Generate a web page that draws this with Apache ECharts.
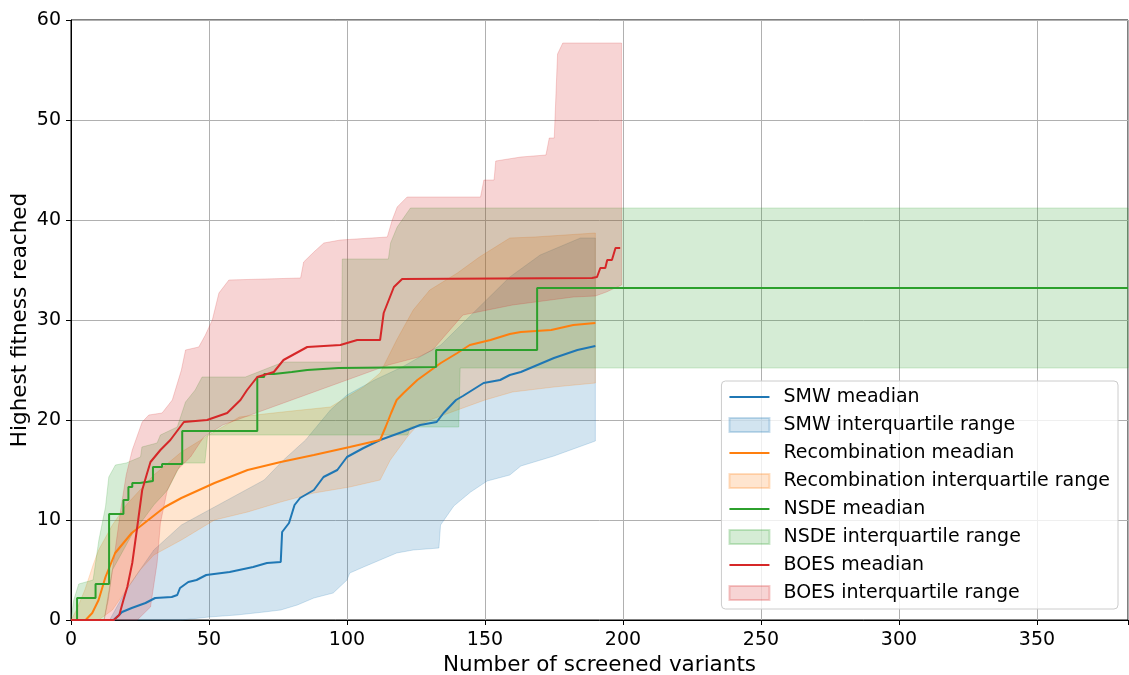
<!DOCTYPE html>
<html><head><meta charset="utf-8">
<script src="https://cdn.jsdelivr.net/npm/echarts@6/dist/echarts.min.js"></script>
<style>html,body{margin:0;padding:0;background:#fff}#c{width:1129px;height:675px}</style>
</head><body><div id="c"></div>
<script>
const xTickStep = 50;
const yTickStep = 10;

const smwMedian = [[0,0],[15.5,0],[18.5,0.8],[22,1.2],[27,1.7],[30.5,2.2],[36.5,2.3],[38.5,2.5],[39.5,3.2],[42.5,3.8],[45.5,4],[49,4.5],[57.5,4.8],[66,5.3],[71,5.7],[76,5.8],[76.5,8.8],[79,9.7],[81,11.5],[83,12.2],[88,13],[91.5,14.3],[96.5,15],[100,16.3],[106,17.2],[112,18],[120,18.8],[126.5,19.5],[132.5,19.8],[135,20.7],[139.5,22],[142,22.4],[149.5,23.7],[155.5,24],[159,24.5],[163,24.8],[175,26.2],[183.5,27],[190,27.4]];
const smwLower = [[0,0],[40,0],[50,0.3],[60,0.5],[70,0.8],[76,1],[82,1.5],[88,2.2],[95,2.7],[100,4],[101,4.7],[106,5.3],[112,6],[118,6.7],[124,7],[133.3,7.2],[133.9,9.5],[138.7,11.4],[144.8,12.8],[150.8,13.9],[159,14.5],[163,15.4],[175,16.4],[183,17.2],[190,17.9]];
const smwUpper = [[0,0],[14,0],[16,1],[20,3],[25,5],[30,7],[40,9.5],[50,11],[60,12.5],[70,14],[77,16],[85,18],[94,21],[100,22.5],[110,24],[120,25.3],[134,27.5],[145,30.5],[159,34.3],[170,36.5],[184.6,38.2],[190,38.2]];

const recMedian = [[0,0],[5.3,0],[7.7,0.7],[10,2],[12.5,4.3],[16,6.7],[22,8.7],[28,10],[34,11.3],[40,12.2],[52,13.7],[64,15],[76,15.8],[88,16.5],[101,17.3],[112,18],[114,19.3],[116,20.7],[118,22],[120.5,22.7],[125.5,24],[129,24.7],[134,25.7],[140,26.7],[144.5,27.5],[152,28],[159,28.6],[163,28.8],[174,29],[182,29.5],[190,29.7]];
const recLower = [[0,0],[10,0],[15,1],[20,3],[25,5],[30,6.5],[40,8],[52,10],[64,10.8],[76,11.8],[88,12.7],[101,13.3],[112,14],[115.7,16],[121.8,18.3],[125,19.3],[130,20],[140,21],[150,22],[160,22.8],[175,23.3],[190,23.7]];
const recUpper = [[0,0],[2,1],[5,3],[8,5.5],[10,7],[15,9.5],[20,11.5],[25,13],[30,14.5],[40,16.8],[50,18.5],[61,20.3],[70,20.6],[80,20.9],[94,21.3],[100,22.3],[106,23.3],[112,24.7],[118,28],[124,31],[130,33],[140,34.7],[148,36.3],[159,38.2],[168,38.3],[190,38.7]];

const nsdeMedian = [[0,0],[2.2,2.2],[8.9,3.6],[13.8,10.6],[19,12],[20.8,13.3],[22.2,13.7],[25,13.9],[29.7,15.3],[33,15.6],[40.3,18.9],[67.5,24.3],[70,24.6],[73.5,24.8],[80,25],[85.6,25.2],[97,25.3],[132.3,27],[168.9,33.2],[383,33.2]];
const nsdeLower = [[0,0],[12,0],[13.5,2],[15,5],[18,6.5],[22,8.5],[26,10],[30,11.5],[35,13],[40,15.7],[48.5,15.7],[49.5,18.5],[122,18.5],[123,19.3],[140.5,19.3],[141,25.2],[383,25.2]];
const nsdeUpper = [[0,0],[1,2],[2.8,3.6],[8,4],[10.1,8],[12.5,11.3],[13.7,14.3],[16.1,15.5],[20,15.7],[25.2,16.3],[25.7,17.3],[31.2,17.7],[32.4,18.5],[38.5,19.3],[41.5,21.8],[45,23],[47.5,24.3],[63.2,24.3],[77,25.8],[98,25.8],[98.3,36.1],[115,36.1],[115.8,37.7],[118.2,39.3],[123,41.2],[383,41.2]];

const boesMedian = [[0,0],[15.5,0],[17.5,0.5],[19,2],[20.4,3.3],[22.2,5.7],[24,9.3],[25.8,13],[27.6,14.7],[28.8,15.8],[32.4,17],[36,18],[40.9,19.8],[49.3,20],[56.6,20.7],[61.4,22],[63.8,23],[67.5,24.3],[73.5,24.8],[77,26],[85.6,27.3],[97.6,27.5],[103.7,28],[112,28],[113.3,30.7],[117,33.3],[120,34.1],[188.8,34.2],[190.6,34.3],[191.8,35.2],[193.6,35.2],[194.3,36],[196,36],[197.3,37.2],[199,37.2]];
const boesLower = [[0,0],[24,0],[28.8,1.3],[31.2,5.7],[32.4,9.7],[34.9,13],[38.5,15],[43.3,16.3],[48.1,18.3],[55,19.5],[65,20.5],[75,21.5],[85,22.5],[95,23.5],[105,24.5],[115,25.5],[126,26.3],[131,27],[142,30.5],[160,31.5],[182,32.3],[190,32.4],[194,32.8],[199.5,33.5]];
const boesUpper = [[0,0],[12,0],[15,5],[18,11],[20,14.5],[22.2,17],[25.8,19.8],[28.2,20.5],[33,20.7],[36.7,22],[40,25],[41.5,27],[46.3,27.3],[48.7,28.5],[51.2,30],[53.6,32.7],[57.2,34],[83.2,34.2],[84.3,35.8],[88,36.8],[91.6,37.7],[97.6,38],[114.6,38.3],[116.4,40],[118.2,41.3],[121.8,42.3],[148.4,42.3],[149.6,44],[153.3,44],[153.9,45.9],[163,46.3],[172.1,46.5],[173.3,48.2],[175.1,48.2],[176.3,56.6],[178.2,57.7],[199.5,57.7]];

const names = ['SMW meadian','SMW interquartile range','Recombination meadian','Recombination interquartile range','NSDE meadian','NSDE interquartile range','BOES meadian','BOES interquartile range'];
const colors = ['#1f77b4','#ff7f0e','#2ca02c','#d62728'];

function rgba(hex, a){
  const n = parseInt(hex.slice(1),16);
  return 'rgba('+((n>>16)&255)+','+((n>>8)&255)+','+(n&255)+','+a+')';
}
function band(name, color, lower, upper){
  const poly = upper.concat(lower.slice().reverse());
  return {
    name: name, type: 'custom', z: 1, silent: true,
    itemStyle: {color: rgba(color,0.2), borderColor: rgba(color,0.25), borderWidth: 1},
    data: poly,
    renderItem: function(params, api){
      if (params.dataIndex !== 0) return null;
      const pts = poly.map(p => api.coord(p));
      return {type:'polygon', shape:{points: pts},
        style:{fill: rgba(color,0.2), stroke: rgba(color,0.2), lineWidth: 1}};
    }
  };
}
function line(name, color, data, step){
  const s = {name: name, type:'line', data: data, z: 3, showSymbol:false, symbol:'none',
    lineStyle:{color: color, width: 2}, itemStyle:{color: color}, silent:true};
  if (step) s.step = step;
  return s;
}

const chart = echarts.init(document.getElementById('c'));
chart.setOption({
  animation: false,
  backgroundColor: '#fff',
  textStyle: {fontFamily: 'DejaVu Sans'},
  grid: {left: 71, right: 1, top: 20, bottom: 55, containLabel: false, outerBoundsMode: 'none',
    show: true, borderColor: '#000', borderWidth: 1, backgroundColor: 'transparent'},
  xAxis: {
    type: 'value', min: 0, max: 383, interval: xTickStep,
    name: 'Number of screened variants', nameLocation: 'middle', nameGap: 34, nameMoveOverlap: false,
    nameTextStyle: {fontSize: 21.5, color: '#000', fontFamily: 'DejaVu Sans'},
    axisLine: {onZero: false, lineStyle: {color: '#000', width: 1}},
    axisTick: {show: true, length: 5, lineStyle: {color: '#000'}},
    axisLabel: {fontSize: 19, color: '#000', margin: 11, fontFamily: 'DejaVu Sans',
      formatter: v => (v % xTickStep === 0 ? String(v) : '')},
    splitLine: {show: true, lineStyle: {color: '#b0b0b0', width: 1}}
  },
  yAxis: {
    type: 'value', min: 0, max: 60, interval: yTickStep,
    name: 'Highest fitness reached', nameLocation: 'middle', nameGap: 40, nameMoveOverlap: false,
    nameTextStyle: {fontSize: 21.5, color: '#000', fontFamily: 'DejaVu Sans'},
    axisLine: {show: true, onZero: false, lineStyle: {color: '#000', width: 1}},
    axisTick: {show: true, length: 5, lineStyle: {color: '#000'}},
    axisLabel: {fontSize: 19, color: '#000', margin: 10, fontFamily: 'DejaVu Sans'},
    splitLine: {show: true, lineStyle: {color: '#b0b0b0', width: 1}}
  },
  legend: {
    orient: 'vertical', right: 11, top: 381,
    padding: [6, 8, 6, 7], itemGap: 8, itemWidth: 40, itemHeight: 14,
    backgroundColor: 'rgba(255,255,255,0.8)', borderColor: '#cccccc', borderWidth: 1, borderRadius: 4,
    textStyle: {fontSize: 19, color: '#000', lineHeight: 20, fontFamily: 'DejaVu Sans', padding: [0,0,0,9]},
    data: names.map((n, i) => (i % 2 === 1 ? {name: n, icon: 'rect'} : {name: n, icon: 'path://M0,0H40V2H0Z'}))
  },
  series: [
    line(names[0], colors[0], smwMedian),
    band(names[1], colors[0], smwLower, smwUpper),
    line(names[2], colors[1], recMedian),
    band(names[3], colors[1], recLower, recUpper),
    line(names[4], colors[2], nsdeMedian, 'end'),
    band(names[5], colors[2], nsdeLower, nsdeUpper),
    line(names[6], colors[3], boesMedian),
    band(names[7], colors[3], boesLower, boesUpper)
  ]
});
</script></body></html>
